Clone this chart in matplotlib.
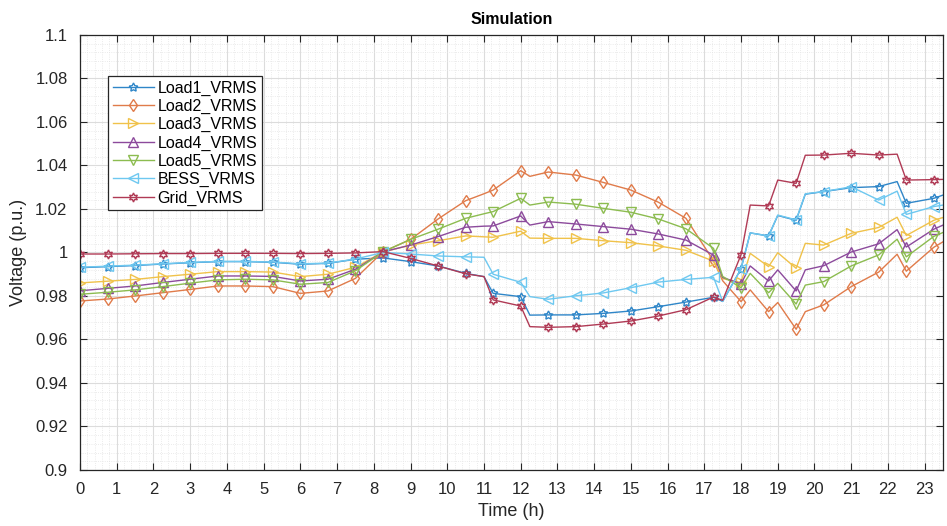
import matplotlib
matplotlib.use('Agg')
import matplotlib.pyplot as plt
from matplotlib.ticker import AutoMinorLocator, MultipleLocator

plt.rcParams['font.family'] = ['Liberation Sans', 'DejaVu Sans']

# breakpoints of the traces (h); markers sit on the 0.75 h steps
hours = [0, 0.75, 1.5, 2.25, 3.0, 3.75, 4.5, 5.25, 6.0, 6.75, 7.5, 8.25, 9.0, 9.75,
         10.5, 11.0, 11.25, 12.0, 12.25, 12.75, 13.5, 14.25, 15.0, 15.75, 16.5,
         17.25, 17.5, 18.0, 18.25, 18.75, 19.0, 19.5, 19.75, 20.25, 21.0, 21.75,
         22.25, 22.5, 23.25, 23.5]

load1 = [0.9930, 0.9935, 0.9940, 0.9947, 0.9953, 0.9958, 0.9958, 0.9955, 0.9946, 0.9950,
         0.9969, 0.9975, 0.9958, 0.9938, 0.9904, 0.9889, 0.9812, 0.9797, 0.9712, 0.9713,
         0.9713, 0.9720, 0.9731, 0.9751, 0.9772, 0.9794, 0.9775, 0.9925, 1.0090, 1.0076,
         1.0170, 1.0148, 1.0268, 1.0280, 1.0298, 1.0303, 1.0326, 1.0226, 1.0249, 1.0264]
load2 = [0.9777, 0.9786, 0.9800, 0.9815, 0.9830, 0.9846, 0.9846, 0.9843, 0.9812, 0.9823,
         0.9881, 1.0003, 1.0060, 1.0154, 1.0238, 1.0270, 1.0287, 1.0376, 1.0350, 1.0370,
         1.0356, 1.0322, 1.0287, 1.0231, 1.0157, 0.9962, 0.9870, 0.9774, 0.9828, 0.9728,
         0.9770, 0.9647, 0.9728, 0.9759, 0.9843, 0.9910, 0.9992, 0.9914, 1.0024, 1.0049]
load3 = [0.9860, 0.9868, 0.9876, 0.9889, 0.9900, 0.9912, 0.9912, 0.9910, 0.9889, 0.9900,
         0.9932, 1.0002, 1.0034, 1.0054, 1.0076, 1.0072, 1.0070, 1.0098, 1.0066, 1.0065,
         1.0065, 1.0054, 1.0045, 1.0030, 1.0010, 0.9960, 0.9880, 0.9862, 0.9996, 0.9935,
         0.9999, 0.9927, 1.0042, 1.0034, 1.0088, 1.0115, 1.0162, 1.0078, 1.0148, 1.0161]
load4 = [0.9824, 0.9835, 0.9846, 0.9862, 0.9877, 0.9892, 0.9892, 0.9890, 0.9869, 0.9877,
         0.9923, 1.0003, 1.0034, 1.0073, 1.0116, 1.0121, 1.0122, 1.0168, 1.0126, 1.0142,
         1.0131, 1.0119, 1.0107, 1.0085, 1.0057, 0.9988, 0.9885, 0.9856, 0.9938, 0.9869,
         0.9920, 0.9823, 0.9920, 0.9939, 1.0002, 1.0040, 1.0105, 1.0025, 1.0107, 1.0126]
load5 = [0.9808, 0.9817, 0.9828, 0.9843, 0.9859, 0.9874, 0.9877, 0.9874, 0.9854, 0.9862,
         0.9916, 1.0003, 1.0060, 1.0107, 1.0157, 1.0178, 1.0188, 1.0249, 1.0218, 1.0232,
         1.0222, 1.0203, 1.0185, 1.0154, 1.0109, 1.0019, 0.9890, 0.9838, 0.9904, 0.9815,
         0.9858, 0.9763, 0.9850, 0.9866, 0.9938, 0.9989, 1.0061, 0.9980, 1.0074, 1.0092]
bess = [0.9932, 0.9937, 0.9942, 0.9948, 0.9954, 0.9959, 0.9959, 0.9956, 0.9948, 0.9951,
        0.9970, 1.0000, 0.9993, 0.9984, 0.9980, 0.9978, 0.9900, 0.9863, 0.9797, 0.9785,
        0.9801, 0.9814, 0.9838, 0.9864, 0.9876, 0.9886, 0.9775, 0.9925, 1.0090, 1.0076,
        1.0172, 1.0150, 1.0270, 1.0280, 1.0302, 1.0241, 1.0282, 1.0175, 1.0211, 1.0218]
grid = [0.9993, 0.9993, 0.9994, 0.9995, 0.9995, 0.9996, 0.9996, 0.9996, 0.9995, 0.9996,
        0.9998, 1.0004, 0.9973, 0.9938, 0.9902, 0.9889, 0.9782, 0.9754, 0.9659, 0.9656,
        0.9659, 0.9671, 0.9685, 0.9708, 0.9737, 0.9795, 0.9780, 0.9990, 1.0218, 1.0214,
        1.0333, 1.0318, 1.0447, 1.0448, 1.0456, 1.0448, 1.0452, 1.0333, 1.0335, 1.0336]

labels = ['Load1_VRMS', 'Load2_VRMS', 'Load3_VRMS', 'Load4_VRMS', 'Load5_VRMS',
          'BESS_VRMS', 'Grid_VRMS']
ytick_vals = [0.9, 0.92, 0.94, 0.96, 0.98, 1.0, 1.02, 1.04, 1.06, 1.08, 1.1]
ytick_text = ['0.9', '0.92', '0.94', '0.96', '0.98', '1', '1.02', '1.04', '1.06', '1.08', '1.1']

series = [load1, load2, load3, load4, load5, bess, grid]
colors = ['#2f86c8', '#e07b4a', '#f0c24a', '#8c4a9c', '#8cbc50', '#6ec8f0', '#b03a55']
markers = [(5, 1, 0), 'd', '>', '^', 'v', '<', (6, 1, 0)]

marker_idx = [i for i, t in enumerate(hours) if abs(t / 0.75 - round(t / 0.75)) < 1e-9]

fig = plt.figure(figsize=(9.47, 5.26), dpi=100)
ax = fig.add_axes([0.0845, 0.1065, 0.9113, 0.827])

for vals, lab, col, mk in zip(series, labels, colors, markers):
    ax.plot(hours, vals, color=col, lw=1.0, marker=mk, markevery=marker_idx,
            markersize=6.5, markerfacecolor='none', markeredgewidth=1.0, label=lab)

ax.set_xlim(0, 23.5)
ax.set_ylim(0.9, 1.1)
ax.xaxis.set_major_locator(MultipleLocator(1))
ax.set_yticks(ytick_vals)
ax.set_yticklabels(ytick_text)
ax.xaxis.set_minor_locator(AutoMinorLocator(5))
ax.yaxis.set_minor_locator(AutoMinorLocator(5))

ax.grid(which='major', color='#dcdcdc', lw=0.8)
ax.grid(which='minor', color='#e4e4e4', lw=0.6, ls=':')
ax.set_axisbelow(True)
ax.tick_params(which='major', direction='in', top=True, right=True, length=5,
               labelsize=12, colors='#262626')
ax.tick_params(axis='y', pad=9)
ax.tick_params(axis='x', pad=9)
ax.tick_params(which='minor', length=0)
for sp in ax.spines.values():
    sp.set_color('#262626')
    sp.set_linewidth(0.9)

ax.set_title('Simulation', fontsize=11.5, fontweight='bold', pad=8)
ax.set_xlabel('Time (h)', fontsize=13, color='#262626', labelpad=4)
ax.set_ylabel('Voltage (p.u.)', fontsize=13, color='#262626', labelpad=6)

leg = ax.legend(loc='upper left', bbox_to_anchor=(0.023, 0.925), fontsize=11.5,
                handlelength=2.6, labelspacing=0.2, borderpad=0.3,
                handletextpad=0.2, fancybox=False, framealpha=1)
leg.get_frame().set_edgecolor('#262626')
leg.get_frame().set_linewidth(0.9)

fig.savefig('out.png', dpi=100)
